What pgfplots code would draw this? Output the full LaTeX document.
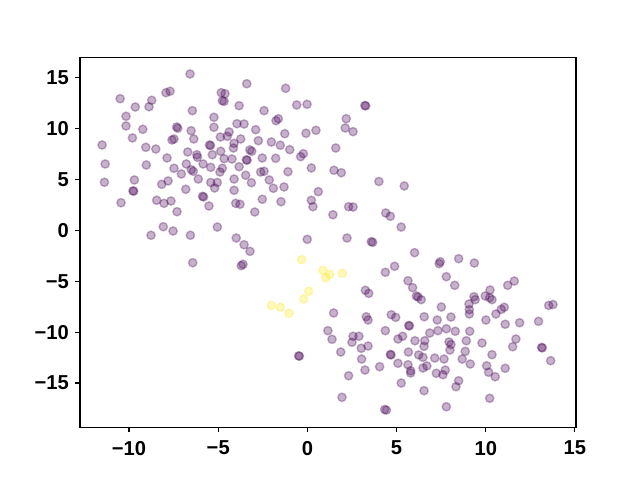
\documentclass[border=0pt]{standalone}
\usepackage{fontspec}
\setmainfont{Liberation Sans}
\usepackage{pgfplots}
\pgfplotsset{compat=1.18}
\definecolor{vpurple}{HTML}{440154}
\definecolor{vyellow}{HTML}{FDE725}
\begin{document}
\begin{tikzpicture}
\useasboundingbox (0,0) rectangle (460.8pt,345.6pt);
\begin{axis}[
  at={(57.6pt,38.02pt)}, anchor=south west, scale only axis,
  width=357.12pt, height=266.11pt,
  xmin=-12.75, xmax=15.06, ymin=-19.34, ymax=17.0,
  xtick={-10,-5,0,5,10,15}, xticklabels={−10,−5,0,5,10,15},
  ytick={-15,-10,-5,0,5,10,15}, yticklabels={−15,−10,−5,0,5,10,15},
  tick align=outside, tick pos=left, major tick length=3.5pt,
  every tick/.style={black, line width=0.8pt},
  axis line style={line width=0.8pt},
  ticklabel style={font=\bfseries\fontsize{14.5}{16}\selectfont},
  xticklabel style={yshift=-3pt},
  yticklabel style={xshift=-1pt},
]
\addplot[only marks, mark=*, mark size=3pt, mark options={fill=vpurple, draw=vpurple, fill opacity=0.3, draw opacity=0.3, line width=1pt}] table {
x y
-6.58 15.39
-10.50 12.96
-7.93 13.55
-7.70 13.69
-8.73 12.80
-9.65 12.14
-8.88 12.17
-6.45 11.78
-10.17 11.23
-10.17 10.28
-9.23 9.95
-7.33 10.18
-7.27 10.05
-6.52 9.81
-9.81 9.10
-7.59 8.90
-7.48 9.00
-6.37 9.00
-11.51 8.41
-9.06 8.18
-8.50 8.01
-6.71 7.72
-6.20 7.45
-6.17 7.20
-7.87 7.13
-11.34 6.54
-9.03 6.44
-6.79 6.54
-5.85 6.54
-7.48 6.12
-6.51 5.98
-6.40 5.82
-7.07 5.56
-11.38 4.74
-9.70 4.97
-7.81 4.87
-6.12 5.06
-3.40 14.43
-1.22 13.98
-4.83 13.55
-4.62 13.45
-4.77 12.76
-4.67 12.70
-3.83 12.27
-2.43 11.78
-0.60 12.34
-0.02 12.41
-5.24 11.13
-1.63 10.99
-1.76 10.80
-3.95 10.50
-3.55 10.47
-5.24 10.15
-2.90 9.91
0.48 9.85
-0.08 9.56
-1.27 9.52
-4.39 9.69
-4.49 9.26
-4.88 9.19
-3.74 9.00
-2.75 8.83
-2.02 8.70
-4.11 8.57
-5.49 8.41
-5.43 8.35
-4.15 8.11
-1.52 8.38
-0.99 7.95
-3.23 7.92
-3.12 7.79
-4.86 7.79
-5.33 7.45
-0.23 7.55
-0.38 7.26
-4.67 7.06
-4.23 7.03
-2.53 7.13
-1.78 7.10
-3.42 6.95
-3.38 6.91
-5.42 6.21
-3.83 6.27
-4.77 6.12
-4.90 5.75
-2.62 5.75
-2.43 5.82
-1.09 5.78
0.22 6.15
-3.46 5.43
-4.11 5.06
-2.14 4.97
3.22 12.29
3.27 12.25
2.18 10.99
2.12 10.08
2.56 9.72
1.59 8.11
1.49 5.92
1.90 5.68
4.01 4.82
-8.17 4.54
-9.78 3.90
-9.74 3.86
-6.82 4.05
-5.88 3.36
-5.82 3.30
-10.45 2.73
-8.45 2.97
-8.04 2.67
-7.65 2.90
-7.31 1.85
-8.08 0.37
-8.77 -0.47
-7.53 -0.05
-6.56 -0.47
-6.43 -3.17
-5.42 4.72
-5.05 4.72
-5.20 4.18
-4.11 3.95
-3.14 4.70
-1.91 4.15
-1.31 4.28
0.61 3.82
-5.52 2.41
-4.02 2.67
-3.78 2.58
-2.53 3.07
-1.48 2.83
0.22 2.97
0.31 2.34
-2.95 1.82
-5.05 0.34
-3.99 -0.74
-3.55 -1.40
-3.22 -2.05
-0.01 -0.87
-3.71 -3.46
-3.61 -3.32
5.43 4.38
1.43 1.55
2.31 2.34
2.56 2.31
4.39 1.72
4.65 1.40
5.26 0.34
2.22 -0.74
3.58 -1.10
3.66 -1.16
6.01 -2.18
7.45 -3.07
7.39 -3.26
7.79 -4.54
4.89 -3.52
4.37 -4.11
5.64 -4.94
5.90 -5.62
6.11 -6.44
6.20 -6.54
6.38 -6.80
3.25 -5.88
3.44 -6.18
7.51 -7.52
8.48 -2.77
9.36 -3.20
8.26 -5.39
11.23 -5.39
11.60 -4.97
10.24 -5.85
9.34 -6.51
9.41 -6.80
9.97 -6.44
10.22 -6.61
10.35 -6.80
9.06 -7.23
10.87 -7.75
11.04 -7.55
13.53 -7.37
13.77 -7.28
-0.49 -12.32
-0.45 -12.36
1.47 -8.11
1.15 -9.85
1.38 -10.70
3.30 -8.48
3.40 -8.80
4.70 -8.28
4.95 -8.54
6.55 -8.48
7.28 -8.80
8.05 -8.51
5.68 -9.34
5.72 -9.38
4.37 -9.85
6.86 -10.08
7.32 -9.85
7.79 -9.66
8.29 -9.91
2.56 -10.40
2.50 -10.99
2.89 -10.40
5.34 -10.40
5.08 -10.67
6.03 -10.84
6.58 -10.84
6.54 -11.39
7.94 -10.96
8.05 -11.21
7.99 -11.75
3.02 -11.58
3.40 -11.36
1.87 -11.95
5.66 -11.95
6.24 -12.24
6.48 -12.47
4.65 -12.19
4.69 -12.23
7.14 -12.54
7.66 -12.64
3.04 -12.64
5.08 -13.06
5.64 -13.20
6.70 -13.32
6.48 -13.52
5.79 -13.79
5.79 -14.01
3.23 -13.72
4.05 -13.39
7.23 -14.04
7.60 -14.18
7.73 -13.72
2.31 -14.28
5.26 -15.00
6.54 -15.75
1.94 -16.40
7.79 -17.33
4.33 -17.60
4.43 -17.66
9.08 -7.79
9.08 -8.21
10.01 -8.80
10.57 -8.21
11.09 -9.22
11.90 -9.07
12.96 -8.93
9.10 -9.91
8.91 -10.84
9.79 -11.06
11.69 -10.67
11.51 -11.43
13.13 -11.50
13.17 -11.54
13.64 -12.80
8.85 -11.88
10.35 -12.21
8.68 -12.64
9.13 -13.13
10.05 -13.30
10.16 -13.94
10.53 -14.38
11.09 -13.55
8.48 -14.77
8.33 -15.36
10.22 -16.50
};
\addplot[only marks, mark=*, mark size=3pt, mark options={fill=vyellow, draw=vyellow, fill opacity=0.3, draw opacity=0.3, line width=1pt}] table {
x y
-0.32 -2.87
0.87 -3.91
1.03 -4.64
1.25 -4.33
1.96 -4.21
0.07 -5.98
-0.21 -6.74
-2.02 -7.36
-1.52 -7.55
-1.03 -8.14
};
\end{axis}
\end{tikzpicture}
\end{document}
